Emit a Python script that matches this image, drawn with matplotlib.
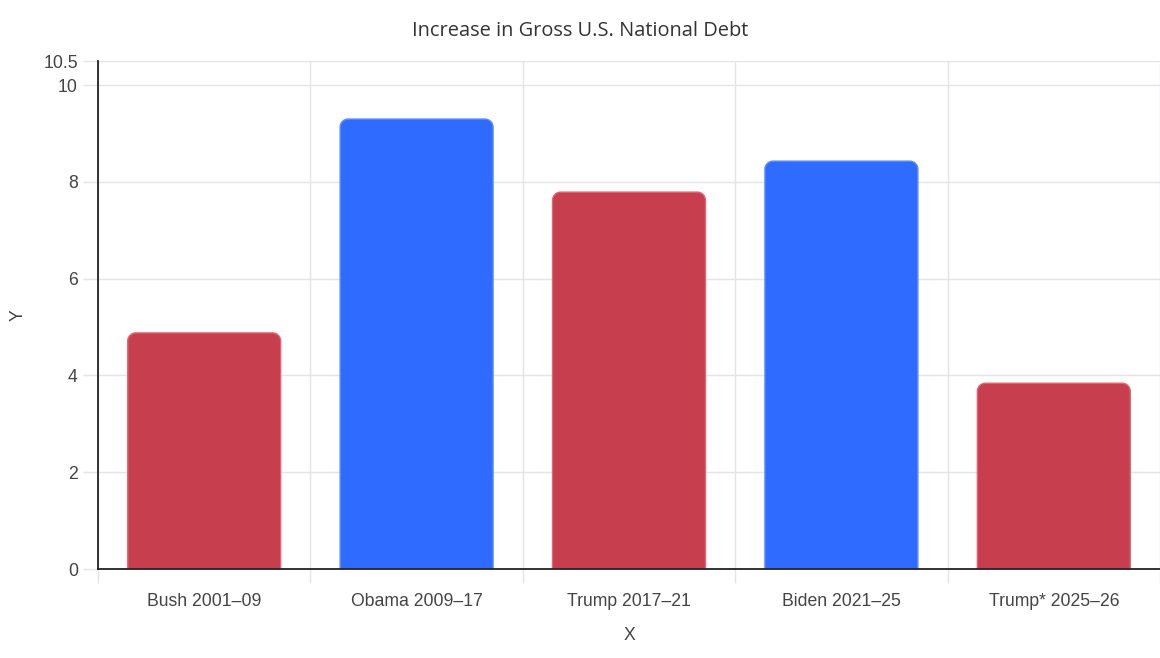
import matplotlib
matplotlib.use("Agg")
import matplotlib.pyplot as plt
from matplotlib.path import Path
from matplotlib.patches import PathPatch
import numpy as np

categories = ["Bush 2001–09", "Obama 2009–17", "Trump 2017–21", "Biden 2021–25", "Trump* 2025–26"]
values = [4.88, 9.30, 7.79, 8.43, 3.84]
bar_colors = ["#c73e4e", "#306bff", "#c73e4e", "#306bff", "#c73e4e"]
edge_colors = ["#e36472", "#5a8bff", "#e36472", "#5a8bff", "#e36472"]
ytick_vals = [0, 2, 4, 6, 8, 10, 10.5]
ytick_labels = ["0", "2", "4", "6", "8", "10", "10.5"]
title = "Increase in Gross U.S. National Debt"

W, H = 1160, 658
fig = plt.figure(figsize=(W / 100, H / 100), dpi=100)
ax = fig.add_axes([98 / W, (H - 569) / H, (1160 - 98) / W, (569 - 61) / H])

x = np.arange(len(categories))
bars = ax.bar(x, values, width=0.72, color=bar_colors)
ax.set_xlim(-0.5, len(categories) - 0.5)
ax.set_ylim(0, 10.5)

# rounded top corners
fig.canvas.draw()
bbox = ax.get_window_extent()
px_per_x = bbox.width / (len(categories))
px_per_y = bbox.height / 10.5
r_px = 8
for rect, fc, ec in zip(bars.patches, bar_colors, edge_colors):
    x0, y0 = rect.get_x(), rect.get_y()
    w, h = rect.get_width(), rect.get_height()
    rx = r_px / px_per_x
    ry = r_px / px_per_y
    k = 0.5523
    x1, y1 = x0 + w, y0 + h
    verts = [
        (x0, y0),
        (x0, y1 - ry),
        (x0, y1 - ry + k * ry), (x0 + rx - k * rx, y1), (x0 + rx, y1),
        (x1 - rx, y1),
        (x1 - rx + k * rx, y1), (x1, y1 - ry + k * ry), (x1, y1 - ry),
        (x1, y0),
        (x0, y0),
    ]
    codes = [Path.MOVETO, Path.LINETO,
             Path.CURVE4, Path.CURVE4, Path.CURVE4,
             Path.LINETO,
             Path.CURVE4, Path.CURVE4, Path.CURVE4,
             Path.LINETO, Path.CLOSEPOLY]
    rect.set_visible(False)
    ax.add_patch(PathPatch(Path(verts, codes), facecolor=fc, edgecolor=ec,
                           linewidth=1.0, zorder=3))

ax.set_yticks(ytick_vals)
ax.set_yticklabels(ytick_labels)
ax.set_xticks(x)
ax.set_xticklabels(categories)
ax.set_xticks(np.arange(-0.5, len(categories)), minor=True)

FS = 12.7
fam = ["Liberation Sans", "DejaVu Sans"]
for lab in ax.get_xticklabels() + ax.get_yticklabels():
    lab.set_fontfamily(fam)
    lab.set_fontsize(FS)
    lab.set_color("#444444")

ax.tick_params(axis="x", which="major", length=0, pad=17)
ax.tick_params(axis="x", which="minor", length=10, color="#e4e4e8", width=1)
ax.tick_params(axis="y", which="major", length=10.5, color="#e4e4e8", width=1, pad=4)

ax.grid(True, axis="y", which="major", color="#e4e4e8", linewidth=1, zorder=0)
ax.grid(True, axis="x", which="minor", color="#e4e4e8", linewidth=1, zorder=0)
ax.set_axisbelow(True)

for s in ["top", "right"]:
    ax.spines[s].set_visible(False)
for s in ["left", "bottom"]:
    ax.spines[s].set_color("#222222")
    ax.spines[s].set_linewidth(1.3)
    ax.spines[s].set_zorder(4)

ax.set_xlabel("X", fontsize=FS, color="#444444", family=fam)
ax.set_ylabel("Y", fontsize=FS, color="#444444", family=fam)
ax.xaxis.set_label_coords(0.5, -(636 - 569) / (569 - 61), transform=ax.transAxes)
ax.xaxis.label.set_va("center")
ax.yaxis.set_label_coords(-(98 - 18) / (1160 - 98), 0.5, transform=ax.transAxes)
ax.yaxis.label.set_va("center")

fig.text(580 / W, 1 - 31 / H, title, ha="center", va="center",
         fontsize=14.4, color="#333333", family=["Open Sans", "DejaVu Sans"])

fig.savefig("out.png", dpi=100)
